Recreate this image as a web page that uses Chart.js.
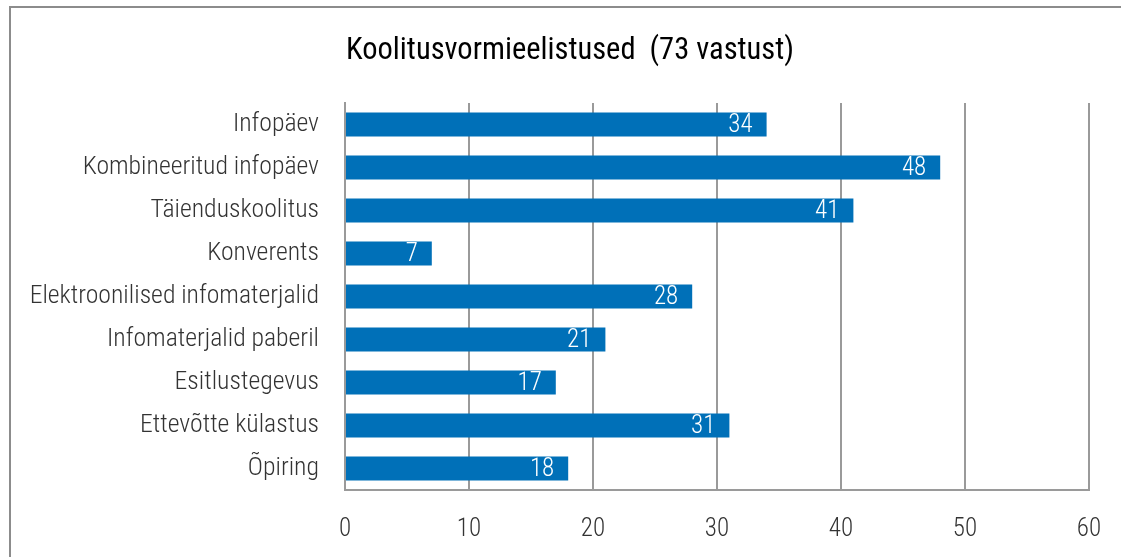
<!DOCTYPE html>
<html>
<head>
<meta charset="utf-8">
<script src="https://cdn.jsdelivr.net/npm/chart.js@4/dist/chart.umd.min.js"></script>
<style>
    body { margin: 0; background: #fff; overflow: hidden; }
    .frame {
        position: absolute;
        left: 9px;
        top: 6px;
        width: 1200px;
        height: 600px;
        border: 2px solid #8c8c8c;
    }
    #chart-wrap {
        position: absolute;
        left: 0;
        top: 0;
        width: 1121px;
        height: 557px;
    }
</style>
</head>
<body>
<div class="frame"></div>
<div id="chart-wrap"><canvas id="chart"></canvas></div>
<script>
const categories = [
    'Infopäev',
    'Kombineeritud infopäev',
    'Täienduskoolitus',
    'Konverents',
    'Elektroonilised infomaterjalid',
    'Infomaterjalid paberil',
    'Esitlustegevus',
    'Ettevõtte külastus',
    'Õpiring'
];
const responses = [34, 48, 41, 7, 28, 21, 17, 31, 18];
const xTicks = [0, 10, 20, 30, 40, 50, 60];
const chartTitle = 'Koolitusvormieelistused  (73 vastust)';

const FONT = "'Roboto Condensed', 'Liberation Sans Narrow', 'DejaVu Sans Condensed', sans-serif";

// title and white value labels drawn by hand
const extras = {
    id: 'extras',
    afterDatasetsDraw(chart) {
        const ctx = chart.ctx;
        const meta = chart.getDatasetMeta(0);
        ctx.save();
        ctx.fillStyle = '#ffffff';
        ctx.font = '300 25px ' + FONT;
        ctx.textAlign = 'right';
        ctx.textBaseline = 'middle';
        meta.data.forEach((bar, i) => {
            ctx.fillText(String(responses[i]), bar.x - 14, bar.y + 1);
        });

        ctx.fillStyle = '#000';
        ctx.font = '400 30.5px ' + FONT;
        ctx.textAlign = 'center';
        ctx.fillText(chartTitle, 570, 51);
        ctx.restore();
    }
};

new Chart(document.getElementById('chart'), {
    type: 'bar',
    data: {
        labels: categories,
        datasets: [{
            data: responses,
            backgroundColor: '#0070b8',
            categoryPercentage: 1,
            barPercentage: 0.56
        }]
    },
    options: {
        indexAxis: 'y',
        responsive: true,
        maintainAspectRatio: false,
        animation: false,
        layout: { padding: { left: 0, right: 32, top: 103, bottom: 0 } },
        plugins: {
            legend: { display: false },
            tooltip: { enabled: false },
            title: { display: false }
        },
        scales: {
            x: {
                min: 0,
                max: 60,
                afterBuildTicks(scale) {
                    scale.ticks = xTicks.map(v => ({ value: v }));
                },
                afterFit(scale) {
                    scale.height = 67;
                    scale.paddingLeft = 0;
                    scale.paddingRight = 0;
                },
                grid: {
                    color: '#9a9a9a',
                    lineWidth: 2,
                    drawTicks: false
                },
                border: { color: '#9a9a9a', width: 2 },
                ticks: {
                    color: '#333',
                    padding: 25,
                    font: { family: FONT, size: 25, weight: 300 }
                }
            },
            y: {
                afterFit(scale) { scale.width = 345; },
                grid: { display: false, drawTicks: false },
                border: { color: '#9a9a9a', width: 2 },
                ticks: {
                    color: '#333',
                    padding: 26,
                    font: { family: FONT, size: 25.7, weight: 300 }
                }
            }
        }
    },
    plugins: [extras]
});
</script>
</body>
</html>
